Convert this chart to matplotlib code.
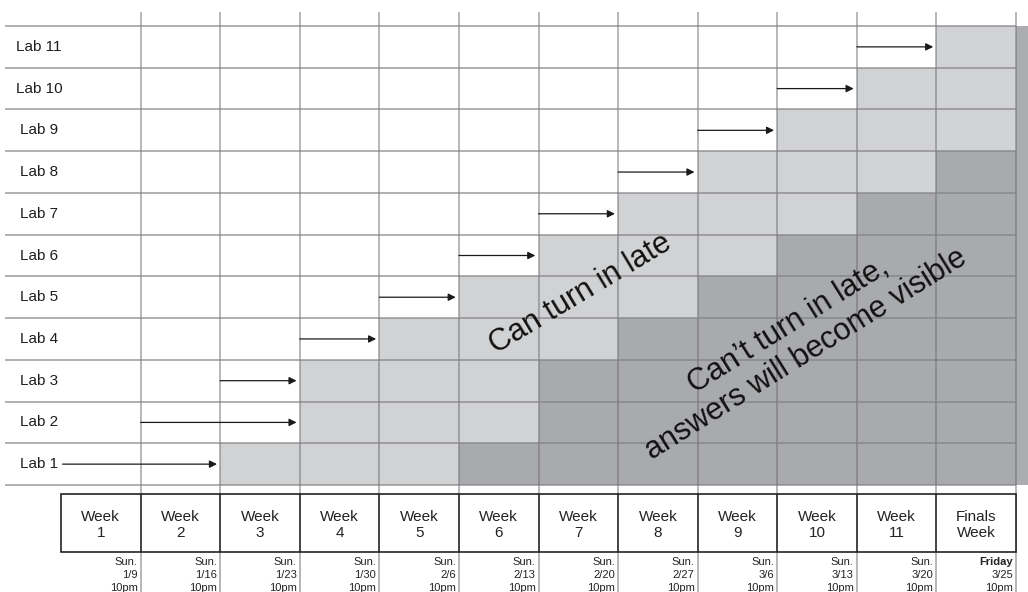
import matplotlib
matplotlib.use("Agg")
import matplotlib.pyplot as plt

plt.rcParams["font.family"] = ["Liberation Sans", "DejaVu Sans"]

# lab schedule: week boundary index where the arrow starts / ends (= due),
# and the boundary where late turn-in stops
labs = [f"Lab {i}" for i in range(1, 12)]
arrow_start = [0, 1, 2, 3, 4, 5, 6, 7, 8, 9, 10]
arrow_end = [2, 3, 3, 4, 5, 6, 7, 8, 9, 10, 11]
late_end = [5, 6, 6, 7, 8, 9, 10, 11, 12, 12, 12]

weeks = [f"Week\n{i}" for i in range(1, 12)] + ["Finals\nWeek"]
due_days = ["Sun."] * 11 + ["Friday"]
due_dates = ["1/9", "1/16", "1/23", "1/30", "2/6", "2/13", "2/20", "2/27",
             "3/6", "3/13", "3/20", "3/25"]
due_times = ["10pm"] * 12

LIGHT = "#d1d2d4"
DARK = "#a9aaad"

# figure layout in pixels -> data units (1 unit = one week / one lab row)
X0, X12 = 61, 1016
Y0, Y11 = 485, 26
WPX = (X12 - X0) / 12
HPX = (Y0 - Y11) / 11


def px2x(px):
    return (px - X0) / WPX


def py2y(py):
    return (Y0 - py) / HPX


fig = plt.figure(figsize=(10.28, 5.92), dpi=100)
ax = fig.add_axes([0, 0, 1, 1])
ax.set_xlim(px2x(0), px2x(1028))
ax.set_ylim(py2y(592), py2y(0))
ax.axis("off")

n = len(labs)
rows = [i + 0.5 for i in range(n)]

# shading
ax.barh(rows, [e - s for s, e in zip(arrow_end, late_end)], left=arrow_end,
        height=1, color=LIGHT, zorder=1)
ax.barh(rows, [12 - e for e in late_end], left=late_end,
        height=1, color=DARK, zorder=1)
ax.barh(n / 2, px2x(1028) - 12, left=12, height=n, color="#acadb0", zorder=1)

# grid (semi-transparent so it reads darker over the shaded cells)
ax.vlines(range(1, 13), py2y(592), py2y(12), color="#6e6e70", alpha=0.5,
          lw=1.4, zorder=2)
ax.hlines(range(0, n + 1), px2x(5), 12, color="#7f7f81", alpha=0.72,
          lw=1.2, zorder=2)

# arrows and row labels
for i, lab in enumerate(labs):
    y = rows[i]
    ax.text(px2x(39), y, lab, ha="center", va="center", fontsize=11,
            color="#1e1e1e", zorder=4)
    x_start = arrow_start[i] + (0.02 if i == 0 else 0)
    ax.annotate("", xy=(arrow_end[i] - 0.04, y), xytext=(x_start, y),
                arrowprops=dict(arrowstyle="-|>", color="#1a1a1a", lw=0.9,
                                mutation_scale=11, shrinkA=0, shrinkB=0),
                zorder=4)

# week boxes
box_top, box_bot = py2y(494), py2y(552)
ax.add_patch(plt.Rectangle((0, box_bot), 12, box_top - box_bot,
                           facecolor="white", edgecolor="#222222", lw=1.2,
                           zorder=3))
ax.vlines(range(1, 12), box_bot, box_top, color="#222222", lw=1.2, zorder=3)
for j, wk in enumerate(weeks):
    ax.text(j + 0.5, py2y(525), wk, ha="center", va="center", fontsize=11,
            linespacing=1.15, color="#222222", zorder=4)
    xr = j + 1 - 3 / WPX
    ax.text(xr, py2y(562), due_days[j], ha="right", va="center", fontsize=8,
            color="#222222", fontweight="bold" if due_days[j] == "Friday" else "normal")
    ax.text(xr, py2y(575), due_dates[j], ha="right", va="center", fontsize=8,
            color="#222222")
    ax.text(xr, py2y(588), due_times[j], ha="right", va="center", fontsize=8,
            color="#222222")

# region annotations
ax.text(px2x(580), py2y(294), "Can turn in late", ha="center", va="center",
        rotation=31, rotation_mode="anchor", fontsize=22, color="#111111",
        zorder=5)
ax.text(px2x(797), py2y(340), "Can\u2019t turn in late,\nanswers will become visible",
        ha="center", va="center", multialignment="center", rotation=32,
        rotation_mode="anchor", fontsize=22, linespacing=1.15, color="#111111",
        zorder=5)

fig.savefig("out.png", dpi=100)
